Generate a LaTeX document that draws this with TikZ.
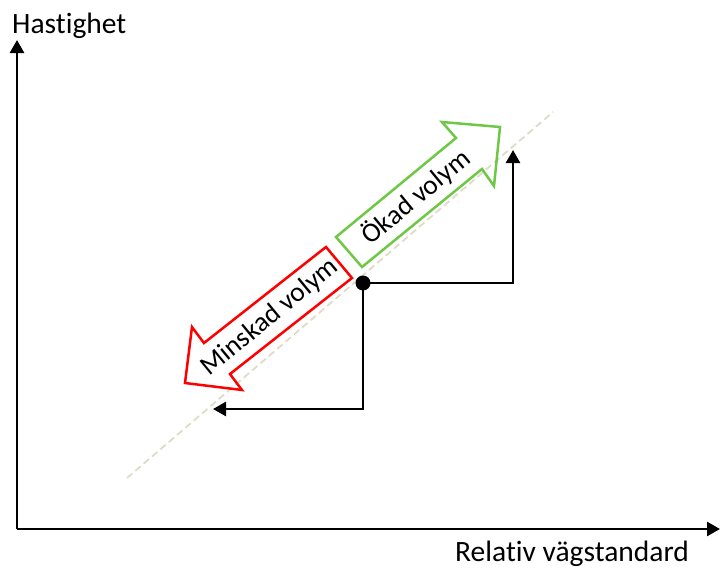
\documentclass[tikz,border=0pt]{standalone}
\usepackage{fontspec}
\setmainfont[Ligatures=NoCommon]{Carlito}
\usetikzlibrary{arrows.meta}
\definecolor{okgreen}{RGB}{110,200,70}
\definecolor{dashc}{RGB}{222,220,200}
\tikzset{
  axis/.style={line width=2.6pt,-{Triangle[length=13pt,width=14pt]}},
  conn/.style={line width=2.6pt,-{Triangle[length=13pt,width=14pt]}},
  blockarrow/.style={line width=2.5pt,line join=miter},
  lbl/.style={font=\fontsize{29.5}{33}\selectfont,inner sep=0pt},
  albl/.style={font=\fontsize{27.5}{31}\selectfont,inner sep=0pt,rotate=39.5}
}
\begin{document}
\begin{tikzpicture}[x=1pt,y=-1pt]
\useasboundingbox (0,0) rectangle (720,568);
% axes
\coordinate (O) at (17,529);
\coordinate (Ytop) at (17,40);
\coordinate (Xend) at (720,529);
\draw[axis] (O) -- (Ytop);
\draw[axis] (O) -- (Xend);
\node[lbl,anchor=base west] (ylab) at (12,33) {Hastighet};
\node[lbl,anchor=base west] (xlab) at (455,561) {Relativ vägstandard};
% dashed diagonal
\coordinate (d1) at (127,478);
\coordinate (d2) at (553,112);
\draw[dashc,line width=1.8pt,dash pattern=on 7pt off 4pt] (d1) -- (d2);
% green block arrow
\draw[okgreen,blockarrow] (336,237) -- (456,138) -- (442,122) -- (500,127) -- (494,186) -- (482,169) -- (362,267) -- cycle;
% red block arrow
\draw[red,blockarrow] (326,247) -- (204,343) -- (192,327) -- (185,383) -- (242,390) -- (230,374) -- (352,278) -- cycle;
\node[albl] (ok) at (416,197) {Ökad volym};
\node[albl] (mi) at (270,317) {Minskad volym};
% dot and connectors
\node[circle,fill=black,minimum size=15pt,inner sep=0pt] (dot) at (363,283) {};
\coordinate (up) at (513,150);
\coordinate (left) at (213,409);
\draw[conn] (dot.center) -| (up);
\draw[conn] (dot.center) |- (left);
\end{tikzpicture}
\end{document}
